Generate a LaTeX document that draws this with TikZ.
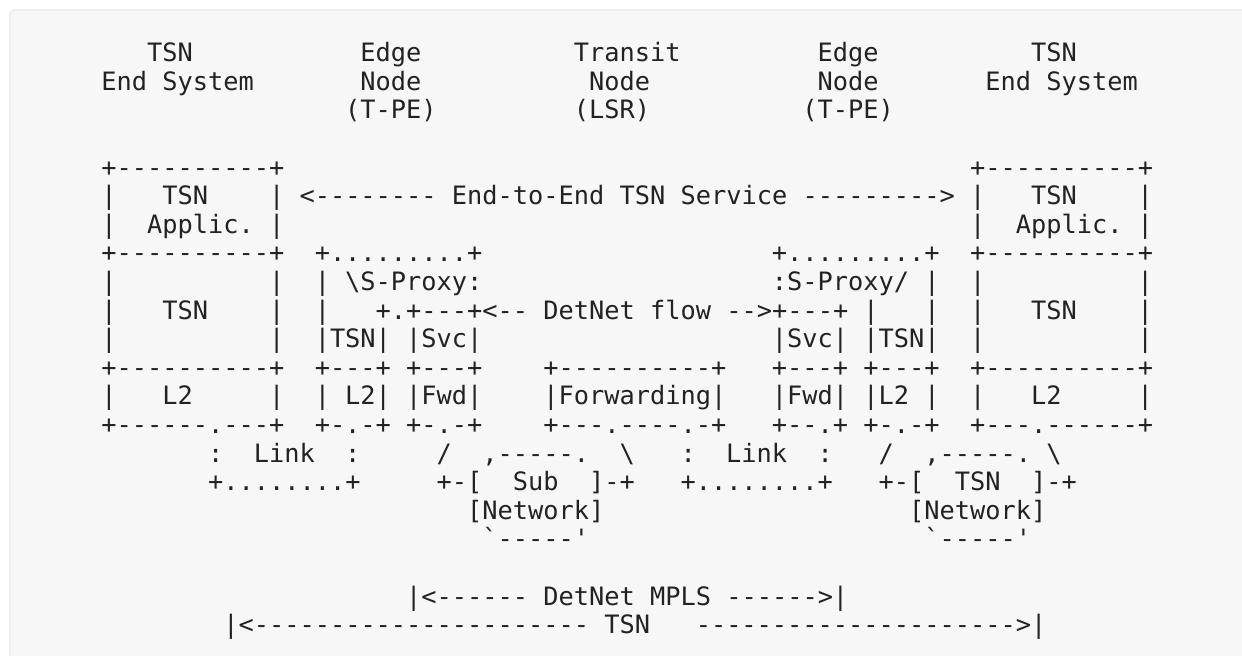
\documentclass[tikz,border=0pt]{standalone}
\usepackage{fontspec}
\setmonofont{DejaVu Sans Mono}
\definecolor{boxgray}{HTML}{F7F7F7}
\definecolor{rimgray}{HTML}{E6E6E6}
\definecolor{inkgray}{HTML}{222222}
\tikzset{
  asc/.style={anchor=base west, inner sep=0pt, outer sep=0pt, text=inkgray,
    font=\ttfamily\fontsize{12.66pt}{14.3pt}\selectfont},
  panel/.style={draw=rimgray, fill=boxgray, line width=0.5pt, rounded corners=2pt}
}
\begin{document}
\begin{tikzpicture}[x=7.62pt, y=14.3pt]
	\useasboundingbox (-50.7pt,30.85pt) rectangle (570.3pt,-297.15pt);
	\fill[white] (-50.7pt,30.85pt) rectangle (570.3pt,-297.15pt);
	\draw[panel] (-45.7pt,25.85pt) rectangle (590pt,-320pt);
	% headings
	\node[asc] (tsnL) at (3,0) {TSN};
	\node[asc] (edgeL) at (17,0) {Edge};
	\node[asc] (transit) at (31,0) {Transit};
	\node[asc] (edgeR) at (47,0) {Edge};
	\node[asc] (tsnR) at (61,0) {TSN};
	\node[asc] (endL) at (0,-1) {End System};
	\node[asc] (nodeL) at (17,-1) {Node};
	\node[asc] (nodeM) at (32,-1) {Node};
	\node[asc] (nodeR) at (47,-1) {Node};
	\node[asc] (endR) at (58,-1) {End System};
	\node[asc] (tpeL) at (16,-2) {(T-PE)};
	\node[asc] (lsr) at (31,-2) {(LSR)};
	\node[asc] (tpeR) at (46,-2) {(T-PE)};
	% application layer
	\node[asc] (appTopL) at (0,-4) {+----------+};
	\node[asc] (appTopR) at (57,-4) {+----------+};
	\node[asc] (appL1) at (0,-5) {|};
	\node[asc] (appTsnL) at (4,-5) {TSN};
	\node[asc] (appL2) at (11,-5) {|};
	\node[asc] (e2e) at (13,-5) {<-------- End-to-End TSN Service --------->};
	\node[asc] (appR1) at (57,-5) {|};
	\node[asc] (appTsnR) at (61,-5) {TSN};
	\node[asc] (appR2) at (68,-5) {|};
	\node[asc] (appL3) at (0,-6) {|};
	\node[asc] (applicL) at (3,-6) {Applic.};
	\node[asc] (appL4) at (11,-6) {|};
	\node[asc] (appR3) at (57,-6) {|};
	\node[asc] (applicR) at (60,-6) {Applic.};
	\node[asc] (appR4) at (68,-6) {|};
	% TSN layer and service proxies
	\node[asc] (tsnTopL) at (0,-7) {+----------+};
	\node[asc] (proxyTopL) at (14,-7) {+.........+};
	\node[asc] (proxyTopR) at (44,-7) {+.........+};
	\node[asc] (tsnTopR) at (57,-7) {+----------+};
	\node[asc] (tsnL1) at (0,-8) {|};
	\node[asc] (tsnL2) at (11,-8) {|};
	\node[asc] (proxyL1) at (14,-8) {|};
	\node[asc] (sproxyL) at (16,-8) {\symbol{92}S-Proxy:};
	\node[asc] (sproxyR) at (44,-8) {:S-Proxy/};
	\node[asc] (proxyR1) at (54,-8) {|};
	\node[asc] (tsnR1) at (57,-8) {|};
	\node[asc] (tsnR2) at (68,-8) {|};
	\node[asc] (tsnL3) at (0,-9) {|};
	\node[asc] (tsnMidL) at (4,-9) {TSN};
	\node[asc] (tsnL4) at (11,-9) {|};
	\node[asc] (proxyL2) at (14,-9) {|};
	\node[asc] (flow) at (18,-9) {+.+---+<-- DetNet flow -->+---+};
	\node[asc] (proxyR2) at (50,-9) {|};
	\node[asc] (proxyR3) at (54,-9) {|};
	\node[asc] (tsnR3) at (57,-9) {|};
	\node[asc] (tsnMidR) at (61,-9) {TSN};
	\node[asc] (tsnR4) at (68,-9) {|};
	\node[asc] (tsnL5) at (0,-10) {|};
	\node[asc] (tsnL6) at (11,-10) {|};
	\node[asc] (peTsnL) at (14,-10) {|TSN|};
	\node[asc] (svcL) at (20,-10) {|Svc|};
	\node[asc] (svcR) at (44,-10) {|Svc|};
	\node[asc] (peTsnR) at (50,-10) {|TSN|};
	\node[asc] (tsnR5) at (57,-10) {|};
	\node[asc] (tsnR6) at (68,-10) {|};
	% L2 and forwarding
	\node[asc] (l2TopL) at (0,-11) {+----------+};
	\node[asc] (peL2TopL) at (14,-11) {+---+};
	\node[asc] (fwdTopL) at (20,-11) {+---+};
	\node[asc] (fwdTopM) at (29,-11) {+----------+};
	\node[asc] (fwdTopR) at (44,-11) {+---+};
	\node[asc] (peL2TopR) at (50,-11) {+---+};
	\node[asc] (l2TopR) at (57,-11) {+----------+};
	\node[asc] (l2L1) at (0,-12) {|};
	\node[asc] (l2TxtL) at (4,-12) {L2};
	\node[asc] (l2L2) at (11,-12) {|};
	\node[asc] (peL2L1) at (14,-12) {|};
	\node[asc] (peL2TxtL) at (16,-12) {L2|};
	\node[asc] (fwdL) at (20,-12) {|Fwd|};
	\node[asc] (fwdM) at (29,-12) {|Forwarding|};
	\node[asc] (fwdR) at (44,-12) {|Fwd|};
	\node[asc] (peL2TxtR) at (50,-12) {|L2};
	\node[asc] (peL2R1) at (54,-12) {|};
	\node[asc] (l2R1) at (57,-12) {|};
	\node[asc] (l2TxtR) at (61,-12) {L2};
	\node[asc] (l2R2) at (68,-12) {|};
	\node[asc] (l2BotL) at (0,-13) {+------.---+};
	\node[asc] (peL2BotL) at (14,-13) {+-.-+};
	\node[asc] (fwdBotL) at (20,-13) {+-.-+};
	\node[asc] (fwdBotM) at (29,-13) {+---.----.-+};
	\node[asc] (fwdBotR) at (44,-13) {+--.+};
	\node[asc] (peL2BotR) at (50,-13) {+-.-+};
	\node[asc] (l2BotR) at (57,-13) {+---.------+};
	% links and networks
	\node[asc] (linkL1) at (7,-14) {:};
	\node[asc] (linkTxtL) at (10,-14) {Link};
	\node[asc] (linkL2) at (16,-14) {:};
	\node[asc] (subL1) at (22,-14) {/};
	\node[asc] (subTop) at (25,-14) {,-----.};
	\node[asc] (subR1) at (34,-14) {\symbol{92}};
	\node[asc] (linkR1) at (38,-14) {:};
	\node[asc] (linkTxtR) at (41,-14) {Link};
	\node[asc] (linkR2) at (47,-14) {:};
	\node[asc] (netL1) at (51,-14) {/};
	\node[asc] (netTop) at (54,-14) {,-----.};
	\node[asc] (netR1) at (62,-14) {\symbol{92}};
	\node[asc] (linkBotL) at (7,-15) {+........+};
	\node[asc] (subL2) at (22,-15) {+-[};
	\node[asc] (sub) at (27,-15) {Sub};
	\node[asc] (subR2) at (32,-15) {]-+};
	\node[asc] (linkBotR) at (38,-15) {+........+};
	\node[asc] (netL2) at (51,-15) {+-[};
	\node[asc] (netTsn) at (56,-15) {TSN};
	\node[asc] (netR2) at (61,-15) {]-+};
	\node[asc] (subNet) at (24,-16) {[Network]};
	\node[asc] (tsnNet) at (53,-16) {[Network]};
	\node[asc] (subBot) at (25,-17) {\symbol{96}-----\symbol{39}};
	\node[asc] (netBot) at (54,-17) {\symbol{96}-----\symbol{39}};
	% spans
	\node[asc] (mpls) at (20,-19) {|<------ DetNet MPLS ------>|};
	\node[asc] (spanL) at (8,-20) {|<----------------------};
	\node[asc] (spanTsn) at (33,-20) {TSN};
	\node[asc] (spanR) at (39,-20) {--------------------->|};
\end{tikzpicture}
\end{document}
